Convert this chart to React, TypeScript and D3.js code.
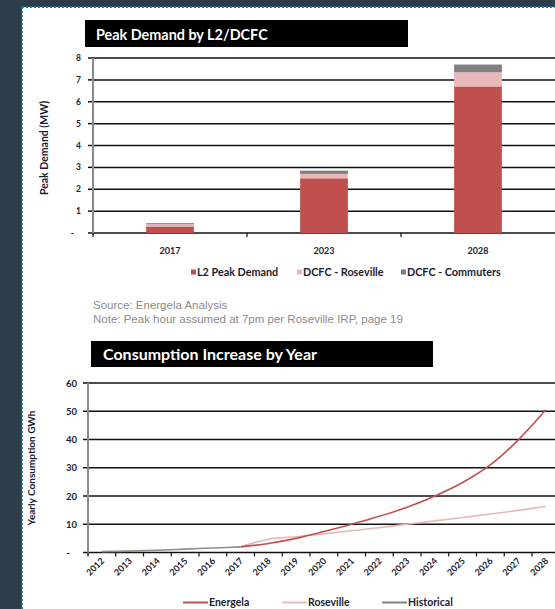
import React from "react";
import * as d3 from "d3";

// Peak demand (MW) by charger type
const peakYears = ["2017", "2023", "2028"];
const l2Peak = [0.3, 2.5, 6.7];
const dcfcRoseville = [0.1, 0.2, 0.65];
const dcfcCommuters = [0.05, 0.15, 0.35];
const peakKeys = ["L2 Peak Demand", "DCFC - Roseville", "DCFC - Commuters"];
const peakColors = ["#c0504d", "#e6b9b8", "#808080"];
const peakTicks = [0, 1, 2, 3, 4, 5, 6, 7, 8];

// Yearly consumption (GWh)
const consYears = [2012, 2013, 2014, 2015, 2016, 2017, 2018, 2019, 2020, 2021, 2022, 2023, 2024, 2025, 2026, 2027, 2028];
const historicalYears = [2012, 2013, 2014, 2015, 2016, 2017];
const historical = [0.3, 0.5, 0.8, 1.2, 1.6, 2.0];
const forecastYears = [2017, 2018, 2019, 2020, 2021, 2022, 2023, 2024, 2025, 2026, 2027, 2028];
const energela = [2.0, 3.2, 5.0, 7.4, 10.0, 12.8, 16.0, 20.0, 24.8, 31.0, 39.8, 50.5];
const roseville = [2.0, 4.7, 5.6, 6.6, 7.7, 8.8, 10.0, 11.2, 12.4, 13.6, 14.9, 16.3];
const consTicks = [0, 10, 20, 30, 40, 50, 60];

const FONT = "Lato, 'Open Sans', sans-serif";
const LABEL = "#1c1c30";

function PeakChart() {
  const x0 = 93, x1 = 555, yTop = 58, yBot = 233;
  const x = d3.scaleBand<string>().domain(peakYears).range([x0, x1]).paddingInner(0.69).paddingOuter(0.345);
  const y = d3.scaleLinear().domain([0, 8]).range([yBot, yTop]);
  const rows = peakYears.map((yr, i) => ({
    year: yr,
    [peakKeys[0]]: l2Peak[i],
    [peakKeys[1]]: dcfcRoseville[i],
    [peakKeys[2]]: dcfcCommuters[i],
  }));
  const stack = d3.stack<any>().keys(peakKeys)(rows);
  const step = x.step();
  const legendX = [191, 297, 401];
  return (
    <g>
      <rect x={85} y={20} width={323} height={27} fill="#000" />
      <text x={96} y={40} fill="#fff" fontFamily={FONT} fontWeight={700} fontSize={14.4}>Peak Demand by L2/DCFC</text>
      {peakTicks.map((t) => (
        <g key={t}>
          <line x1={x0} x2={x1} y1={y(t)} y2={y(t)} stroke="#111" strokeWidth={1.5} />
          <line x1={x0 - 5} x2={x0} y1={y(t)} y2={y(t)} stroke="#111" strokeWidth={1.5} />
          <text x={t === 0 ? 74 : 81} y={y(t) + 3} textAnchor="end" fill={LABEL} fontFamily={FONT} fontWeight={700} fontSize={8.5}>
            {t === 0 ? "-" : t}
          </text>
        </g>
      ))}
      {stack.map((layer, li) => (
        <g key={li} fill={peakColors[li]}>
          {layer.map((d, i) => (
            <rect key={i} x={x(peakYears[i])} width={x.bandwidth()} y={y(d[1])} height={y(d[0]) - y(d[1])} />
          ))}
        </g>
      ))}
      <line x1={x0} x2={x0} y1={yTop} y2={yBot + 2} stroke="#8a8a8a" strokeWidth={2} />
      {[0, 1, 2].map((i) => (
        <line key={i} x1={x0 + step * i} x2={x0 + step * i} y1={yBot} y2={yBot + 4} stroke="#111" strokeWidth={1.2} />
      ))}
      {peakYears.map((yr) => (
        <text key={yr} x={(x(yr) as number) + x.bandwidth() / 2} y={254} textAnchor="middle" fill={LABEL} fontFamily={FONT} fontWeight={700} fontSize={9}>
          {yr}
        </text>
      ))}
      <text transform={`translate(48,148) rotate(-90)`} textAnchor="middle" fill={LABEL} fontFamily={FONT} fontWeight={700} fontSize={10.5}>
        Peak Demand (MW)
      </text>
      {peakKeys.map((k, i) => (
        <g key={k}>
          <rect x={legendX[i]} y={269.5} width={5} height={5} fill={peakColors[i]} />
          <text x={legendX[i] + 6} y={275.5} fill={LABEL} fontFamily={FONT} fontWeight={700} fontSize={10.8}>{k}</text>
        </g>
      ))}
      <text x={93} y={309} fill="#8c8c8c" fontFamily="'Liberation Sans', Arial, sans-serif" fontSize={11.5}>Source: Energela Analysis</text>
      <text x={93} y={323} fill="#8c8c8c" fontFamily="'Liberation Sans', Arial, sans-serif" fontSize={11.5}>Note: Peak hour assumed at 7pm per Roseville IRP, page 19</text>
    </g>
  );
}

function ConsumptionChart() {
  const x0 = 88, yTop = 383, yBot = 552.5;
  const step = 27.75;
  const x = d3.scaleBand<number>().domain(consYears).range([x0, x0 + step * consYears.length]);
  const cx = (yr: number) => (x(yr) as number) + x.bandwidth() / 2;
  const y = d3.scaleLinear().domain([0, 60]).range([yBot, yTop]);
  const line = d3.line<[number, number]>().x((d) => cx(d[0])).y((d) => y(d[1])).curve(d3.curveMonotoneX);
  const hist = line(historicalYears.map((yr, i) => [yr, historical[i]]));
  const ener = line(forecastYears.map((yr, i) => [yr, energela[i]]));
  const rose = line(forecastYears.map((yr, i) => [yr, roseville[i]]));
  const legend = [
    { name: "Energela", color: "#c0504d", x: 183 },
    { name: "Roseville", color: "#e6b9b8", x: 282 },
    { name: "Historical", color: "#808080", x: 382 },
  ];
  return (
    <g>
      <rect x={91} y={341} width={342} height={26} fill="#000" />
      <text x={103} y={360} fill="#fff" fontFamily={FONT} fontWeight={700} fontSize={16}>Consumption Increase by Year</text>
      {consTicks.map((t) => (
        <g key={t}>
          <line x1={x0} x2={555} y1={y(t)} y2={y(t)} stroke="#111" strokeWidth={1.5} />
          <line x1={x0 - 5} x2={x0} y1={y(t)} y2={y(t)} stroke="#111" strokeWidth={1.5} />
          <text x={t === 0 ? 70 : 77} y={y(t) + 3.5} textAnchor="end" fill={LABEL} fontFamily={FONT} fontWeight={700} fontSize={9.5}>
            {t === 0 ? "-" : t}
          </text>
        </g>
      ))}
      <line x1={x0} x2={x0} y1={yTop} y2={yBot + 2} stroke="#8a8a8a" strokeWidth={2} />
      {consYears.map((yr) => (
        <line key={yr} x1={x(yr)} x2={x(yr)} y1={yBot} y2={yBot + 4} stroke="#111" strokeWidth={1.2} />
      ))}
      <path d={rose || ""} fill="none" stroke="#e6b9b8" strokeWidth={1.6} />
      <path d={ener || ""} fill="none" stroke="#c0504d" strokeWidth={1.6} />
      <path d={hist || ""} fill="none" stroke="#8c8c8c" strokeWidth={1.6} />
      {consYears.map((yr) => (
        <text key={yr} transform={`translate(${cx(yr) + 3},${yBot + 9}) rotate(-45)`} textAnchor="end" fill={LABEL} fontFamily={FONT} fontWeight={700} fontSize={9}>
          {yr}
        </text>
      ))}
      <text transform={`translate(35,468) rotate(-90)`} textAnchor="middle" fill={LABEL} fontFamily={FONT} fontWeight={700} fontSize={10}>
        Yearly Consumption GWh
      </text>
      {legend.map((l) => (
        <g key={l.name}>
          <line x1={l.x} x2={l.x + 25} y1={602.5} y2={602.5} stroke={l.color} strokeWidth={2} />
          <text x={l.x + 26} y={606} fill={LABEL} fontFamily={FONT} fontWeight={700} fontSize={10.5}>{l.name}</text>
        </g>
      ))}
    </g>
  );
}

export default function App() {
  const W = 555, H = 609;
  return (
    <svg width={W} height={H} style={{ position: "absolute", left: 0, top: 0 }}>
      <rect x={0} y={0} width={W} height={H} fill="#2e3e4a" />
      <rect x={22} y={7} width={W - 22} height={H - 7} fill="#fff" />
      <line x1={22} x2={22} y1={7} y2={H} stroke="#1a7e9e" strokeWidth={2} strokeDasharray="2,2" />
      <line x1={22} x2={W} y1={7} y2={7} stroke="#1a7e9e" strokeWidth={2} strokeDasharray="2,2" />
      <PeakChart />
      <ConsumptionChart />
    </svg>
  );
}
